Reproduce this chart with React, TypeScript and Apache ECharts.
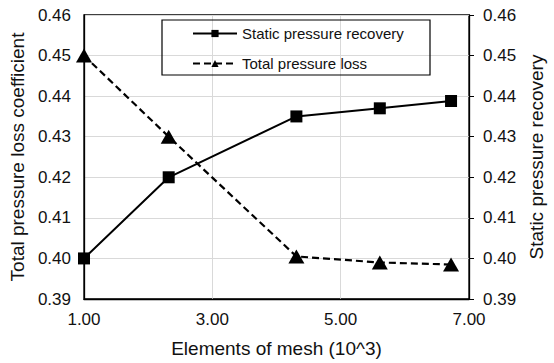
import React, { useEffect, useRef } from "react";
import * as echarts from "echarts";

const meshElements = [1.0, 2.32, 4.31, 5.61, 6.72];
const staticRecovery = [0.4, 0.42, 0.435, 0.437, 0.4388];
const totalLoss = [0.45, 0.43, 0.4005, 0.399, 0.3985];
const seriesNames = ["Static pressure recovery", "Total pressure loss"];
const axisNames = {
  x: "Elements of mesh (10^3)",
  left: "Total pressure loss coefficient",
  right: "Static pressure recovery",
};

const FONT = "'Liberation Sans', Arial, sans-serif";

export default function App() {
  const ref = useRef<HTMLDivElement>(null);
  useEffect(() => {
    if (!ref.current) return;
    const chart = echarts.init(ref.current, undefined, { renderer: "svg" });
    const tickLabel = { color: "#111", fontSize: 17, fontFamily: FONT };
    const nameStyle = { color: "#111", fontSize: 19, fontFamily: FONT };
    chart.setOption({
      animation: false,
      backgroundColor: "#fff",
      textStyle: { fontFamily: FONT },
      grid: {
        left: 83,
        right: 76,
        top: 15,
        bottom: 61,
        show: true,
        borderColor: "#000",
        borderWidth: 1.3,
      },
      legend: {
        left: 192,
        top: 26,
        orient: "vertical",
        itemWidth: 44,
        itemHeight: 9,
        itemGap: 15,
        padding: 0,
        textStyle: { fontSize: 15, color: "#111", fontFamily: FONT, lineHeight: 14 },
        data: seriesNames,
      },
      graphic: [
        {
          type: "rect",
          shape: { x: 162, y: 20, width: 268, height: 55 },
          style: { fill: "none", stroke: "#000", lineWidth: 1.2 },
          z: 100,
        },
      ],
      xAxis: {
        type: "value",
        min: 1,
        max: 7,
        interval: 2,
        name: axisNames.x,
        nameLocation: "middle",
        nameGap: 40,
        nameTextStyle: nameStyle,
        axisLine: { show: true, lineStyle: { color: "#000", width: 1.3 } },
        axisTick: { show: false },
        axisLabel: { ...tickLabel, margin: 12, formatter: (v: number) => v.toFixed(2) },
        splitLine: { show: true, lineStyle: { color: "#d9d9d9", width: 1 } },
      },
      yAxis: [
        {
          type: "value",
          position: "left",
          min: 0.39,
          max: 0.46,
          interval: 0.01,
          name: axisNames.left,
          nameLocation: "middle",
          nameGap: 54,
          nameTextStyle: nameStyle,
          axisLine: { show: true, lineStyle: { color: "#000", width: 1.3 } },
          axisTick: { show: false },
          axisLabel: { ...tickLabel, margin: 13, formatter: (v: number) => v.toFixed(2) },
          splitLine: { show: true, lineStyle: { color: "#d9d9d9", width: 1 } },
        },
        {
          type: "value",
          position: "right",
          min: 0.39,
          max: 0.46,
          interval: 0.01,
          name: axisNames.right,
          nameLocation: "middle",
          nameGap: 55,
          nameTextStyle: nameStyle,
          axisLine: { show: true, lineStyle: { color: "#000", width: 1.3 } },
          axisTick: { show: true, inside: false, length: 5, lineStyle: { color: "#000" } },
          axisLabel: { ...tickLabel, margin: 14, formatter: (v: number) => v.toFixed(2) },
          splitLine: { show: false },
        },
      ],
      series: [
        {
          name: seriesNames[0],
          type: "line",
          yAxisIndex: 1,
          data: meshElements.map((x, i) => [x, staticRecovery[i]]),
          symbol: "rect",
          symbolSize: 12,
          itemStyle: { color: "#000" },
          lineStyle: { color: "#000", width: 2, type: "solid" },
          z: 5,
        },
        {
          name: seriesNames[1],
          type: "line",
          yAxisIndex: 0,
          data: meshElements.map((x, i) => [x, totalLoss[i]]),
          symbol: "triangle",
          symbolSize: [16, 14],
          itemStyle: { color: "#000" },
          lineStyle: { color: "#000", width: 2.2, type: [7, 4] },
          z: 5,
        },
      ],
    });
    return () => chart.dispose();
  }, []);
  return <div ref={ref} style={{ width: 554, height: 363, position: "absolute", left: 0, top: 0 }} />;
}
